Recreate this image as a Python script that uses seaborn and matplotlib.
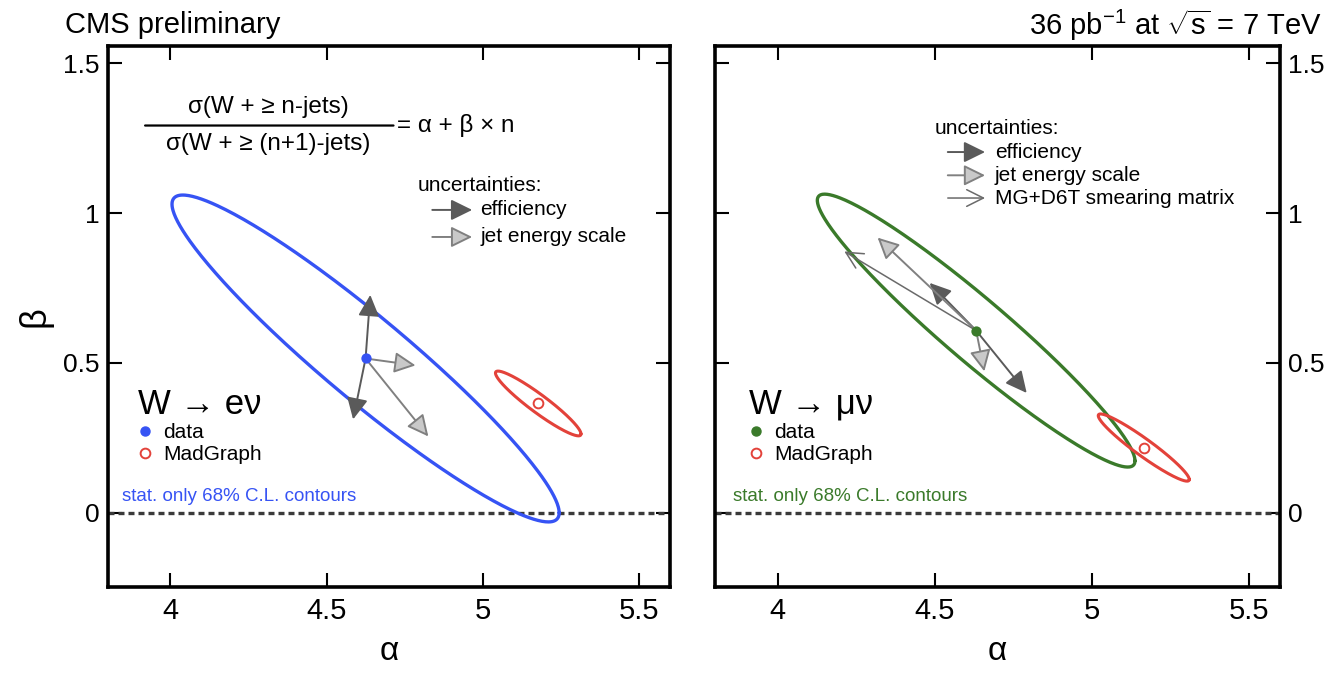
import numpy as np
import pandas as pd
import matplotlib
matplotlib.use("Agg")
import matplotlib.pyplot as plt
from matplotlib.lines import Line2D
import seaborn as sns

sns.set_style("white")
plt.rcParams["font.family"] = ["Liberation Sans", "DejaVu Sans"]
plt.rcParams["mathtext.fontset"] = "custom"
plt.rcParams["mathtext.rm"] = "Liberation Sans"
plt.rcParams["mathtext.it"] = "Liberation Sans:italic"
plt.rcParams["mathtext.bf"] = "Liberation Sans:bold"
for k in ["text.color", "axes.labelcolor", "xtick.color", "ytick.color"]:
    plt.rcParams[k] = "black"

# ---------------- data ----------------
channels = ["W → eν", "W → μν"]
data_colors = ["#3653f4", "#3a7a2a"]
mg_color = "#e3423a"

# measured points and stat-only 68% C.L. contours (centre, sigmas, correlation)
data_alpha = [4.625, 4.632]
data_beta = [0.515, 0.608]
data_sig_alpha = [0.620, 0.506]
data_sig_beta = [0.545, 0.455]
data_rho = [-0.944, -0.954]

# MadGraph predictions and contours
mg_alpha = [5.178, 5.166]
mg_beta = [0.365, 0.218]
mg_sig_alpha = [0.137, 0.145]
mg_sig_beta = [0.108, 0.112]
mg_rho = [-0.94, -0.95]

# systematic shift arrows (tips), starting at the data point
eff_tip_alpha = [[4.640, 4.585], [4.484, 4.793]]
eff_tip_beta = [[0.727, 0.312], [0.767, 0.400]]
jes_tip_alpha = [[4.785, 4.826], [4.318, 4.658]]
jes_tip_beta = [[0.492, 0.255], [0.918, 0.472]]
smear_tip_alpha = [[], [4.212]]
smear_tip_beta = [[], [0.872]]

xticks = [4, 4.5, 5, 5.5]
xtick_labels = ["4", "4.5", "5", "5.5"]
yticks = [0, 0.5, 1, 1.5]
ytick_labels = ["0", "0.5", "1", "1.5"]
xlim = (3.8, 5.6)
ylim = (-0.247, 1.557)

# ---------------- helpers ----------------
def ellipse_frame(a0, b0, sa, sb, rho):
    t = np.linspace(0, 2 * np.pi, 400)
    a = a0 + sa * np.cos(t)
    b = b0 + sb * (rho * np.cos(t) + np.sqrt(1 - rho ** 2) * np.sin(t))
    return pd.DataFrame({"alpha": a, "beta": b})

DARK = "#5a5a5a"
LIGHT_FC = "#c9c9c9"
LIGHT_EC = "#808080"

def arrow(ax, x0, y0, x1, y1, kind, coords="data"):
    if kind == "eff":
        props = dict(arrowstyle="-|>,head_length=0.65,head_width=0.32",
                     mutation_scale=20, fc=DARK, ec=DARK, lw=1.4,
                     shrinkA=0, shrinkB=0)
    elif kind == "jes":
        props = dict(arrowstyle="-|>,head_length=0.65,head_width=0.32",
                     mutation_scale=20, fc=LIGHT_FC, ec=LIGHT_EC, lw=1.4,
                     shrinkA=0, shrinkB=0)
    else:
        props = dict(arrowstyle="->,head_length=0.6,head_width=0.3",
                     mutation_scale=20, color="#6a6a6a", lw=1.1,
                     shrinkA=0, shrinkB=0)
    ax.annotate("", xy=(x1, y1), xytext=(x0, y0), xycoords=coords,
                textcoords=coords, arrowprops=props, zorder=4)

# ---------------- figure ----------------
W, H = 1338, 674
fig = plt.figure(figsize=(W / 100, H / 100), dpi=100)
ax1 = fig.add_axes([108 / W, 87 / H, 562 / W, 541 / H])
ax2 = fig.add_axes([715 / W, 87 / H, 565 / W, 541 / H])
axes = [ax1, ax2]

for i, ax in enumerate(axes):
    col = data_colors[i]
    ax.axhline(0, color="#3a3a3a", lw=2.4, ls=(0, (1.8, 1.2)), zorder=1)

    d = ellipse_frame(data_alpha[i], data_beta[i], data_sig_alpha[i],
                      data_sig_beta[i], data_rho[i])
    sns.lineplot(data=d, x="alpha", y="beta", sort=False, estimator=None,
                 color=col, lw=2.4, ax=ax, zorder=2)
    m = ellipse_frame(mg_alpha[i], mg_beta[i], mg_sig_alpha[i],
                      mg_sig_beta[i], mg_rho[i])
    sns.lineplot(data=m, x="alpha", y="beta", sort=False, estimator=None,
                 color=mg_color, lw=2.2, ax=ax, zorder=2)

    for xa, yb in zip(eff_tip_alpha[i], eff_tip_beta[i]):
        arrow(ax, data_alpha[i], data_beta[i], xa, yb, "eff")
    for xa, yb in zip(jes_tip_alpha[i], jes_tip_beta[i]):
        arrow(ax, data_alpha[i], data_beta[i], xa, yb, "jes")
    for xa, yb in zip(smear_tip_alpha[i], smear_tip_beta[i]):
        arrow(ax, data_alpha[i], data_beta[i], xa, yb, "smear")

    sns.scatterplot(x=[data_alpha[i]], y=[data_beta[i]], color=col, s=55,
                    edgecolor=col, linewidth=0, ax=ax, zorder=5)
    ax.plot([mg_alpha[i]], [mg_beta[i]], "o", ms=7, mfc="none",
            mec=mg_color, mew=1.4, zorder=5)

    ax.set_xlim(*xlim)
    ax.set_ylim(*ylim)
    ax.set_xticks(xticks)
    ax.set_xticklabels(xtick_labels, fontsize=21)
    ax.set_yticks(yticks)
    ax.set_yticklabels(ytick_labels, fontsize=19)
    ax.tick_params(direction="in", length=10, width=1.5, top=True,
                   right=True, left=True, bottom=True)
    ax.tick_params(axis="x", pad=7)
    ax.tick_params(axis="y", pad=6)
    for s in ax.spines.values():
        s.set_linewidth(2.6)
        s.set_color("black")
    ax.set_xlabel("α", fontsize=24, labelpad=8)

    # legend of data / MadGraph
    handles = [Line2D([], [], marker="o", ls="none", color=col, ms=6.5),
               Line2D([], [], marker="o", ls="none", mfc="none",
                      mec=mg_color, mew=1.4, ms=7)]
    ax.legend(handles, ["data", "MadGraph"], loc="upper left",
              bbox_to_anchor=(0.028 if i == 0 else 0.035, 0.395),
              frameon=False, fontsize=15, title=channels[i],
              title_fontsize=25, alignment="left", handlelength=0.6,
              handletextpad=0.6, labelspacing=0.12, borderpad=0.2)
    ax.text(0.025 if i == 0 else 0.032, 0.168, "stat. only 68% C.L. contours",
            transform=ax.transAxes, color=col, fontsize=13.5, va="center",
            ha="left")

ax1.set_ylabel("β", fontsize=26, labelpad=8)
ax2.set_ylabel("")
ax2.tick_params(labelleft=False, labelright=True)

# formula (left panel)
ax1.text(0.285, 0.888, "σ(W + ≥ n-jets)", transform=ax1.transAxes,
         fontsize=17.5, ha="center", va="center")
ax1.text(0.285, 0.818, "σ(W + ≥ (n+1)-jets)", transform=ax1.transAxes,
         fontsize=17.5, ha="center", va="center")
ax1.annotate("", xy=(0.508, 0.853), xytext=(0.066, 0.853),
             xycoords="axes fraction", textcoords="axes fraction",
             arrowprops=dict(arrowstyle="-", lw=1.6, color="black",
                             shrinkA=0, shrinkB=0))
ax1.text(0.515, 0.853, "= α + β × n", transform=ax1.transAxes,
         fontsize=17.5, ha="left", va="center")

# uncertainty key, left
ax1.text(0.551, 0.742, "uncertainties:", transform=ax1.transAxes,
         fontsize=15, ha="left", va="center")
arrow(ax1, 0.577, 0.697, 0.648, 0.697, "eff", coords="axes fraction")
ax1.text(0.662, 0.697, "efficiency", transform=ax1.transAxes, fontsize=15,
         ha="left", va="center")
arrow(ax1, 0.577, 0.647, 0.648, 0.647, "jes", coords="axes fraction")
ax1.text(0.662, 0.647, "jet energy scale", transform=ax1.transAxes,
         fontsize=15, ha="left", va="center")

# uncertainty key, right
ax2.text(0.389, 0.848, "uncertainties:", transform=ax2.transAxes,
         fontsize=15, ha="left", va="center")
arrow(ax2, 0.412, 0.804, 0.478, 0.804, "eff", coords="axes fraction")
ax2.text(0.495, 0.804, "efficiency", transform=ax2.transAxes, fontsize=15,
         ha="left", va="center")
arrow(ax2, 0.412, 0.761, 0.478, 0.761, "jes", coords="axes fraction")
ax2.text(0.495, 0.761, "jet energy scale", transform=ax2.transAxes,
         fontsize=15, ha="left", va="center")
arrow(ax2, 0.412, 0.719, 0.478, 0.719, "smear", coords="axes fraction")
ax2.text(0.495, 0.719, "MG+D6T smearing matrix", transform=ax2.transAxes,
         fontsize=15, ha="left", va="center")

# header
fig.text(65 / W, 1 - 25 / H, "CMS preliminary", fontsize=21,
         ha="left", va="center")
fig.text(1322 / W, 1 - 25 / H, r"36 pb$^{-1}$ at $\sqrt{\mathrm{s}}$ = 7 TeV",
         fontsize=21, ha="right", va="center")

fig.savefig("out.png", dpi=100)
